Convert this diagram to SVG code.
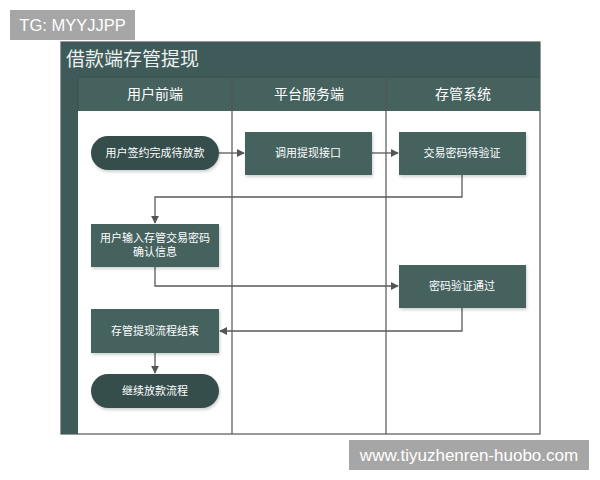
<svg xmlns="http://www.w3.org/2000/svg" width="600" height="480" viewBox="0 0 600 480">
<defs>
<style>
.t{font-family:"Liberation Sans","Noto Sans CJK SC",sans-serif;fill:#ffffff;text-anchor:middle}
.n{font-size:11px}
.h{font-size:14px}
.box{fill:#45625f}
.stad{fill:#364d4b}
.ln{fill:none;stroke:#5a5a5a;stroke-width:1.3}
.wm{fill:#a6a6a6}
</style>
<marker id="ar" viewBox="0 0 10 10" refX="9" refY="5" markerWidth="8" markerHeight="8" markerUnits="userSpaceOnUse" orient="auto">
<path d="M0,0 L10,5 L0,10 z" fill="#555"/>
</marker>
<filter id="sh" x="-10%" y="-10%" width="130%" height="140%">
<feDropShadow dx="1" dy="2" stdDeviation="1.5" flood-color="#000" flood-opacity="0.18"/>
</filter>
</defs>
<rect width="600" height="480" fill="#ffffff"/>
<g id="watermark-top">
<rect class="wm" x="10" y="10" width="125" height="30"/>
<text x="72.5" y="31" font-family="Liberation Sans,sans-serif" font-size="16.5" fill="#ffffff" text-anchor="middle">TG: MYYJJPP</text>
</g>
<g id="frame">
<rect x="61" y="42" width="479" height="392" fill="#ffffff" stroke="#555" stroke-width="1.2"/>
<rect x="61" y="42" width="479" height="35" fill="#3f5b59"/>
<rect x="61" y="77" width="479" height="34" fill="#45625f"/>
<rect x="61" y="77" width="17" height="357" fill="#3f5b59"/>
<line x1="78" y1="77" x2="540" y2="77" stroke="#37504e" stroke-width="1"/>
<line x1="232" y1="77" x2="232" y2="434" stroke="#555" stroke-width="1.2"/>
<line x1="386" y1="77" x2="386" y2="434" stroke="#555" stroke-width="1.2"/>
<line x1="78" y1="77" x2="78" y2="111" stroke="#37504e" stroke-width="1"/>
<text x="66" y="66" font-family="Liberation Sans,'Noto Sans CJK SC',sans-serif" font-size="19" fill="#ecf1f0">借款端存管提现</text>
<text class="t h" x="155" y="99">用户前端</text>
<text class="t h" x="309" y="99">平台服务端</text>
<text class="t h" x="463" y="99">存管系统</text>
</g>
<g id="connectors">
<path class="ln" d="M219,153 H244" marker-end="url(#ar)"/>
<path class="ln" d="M372,153 H398" marker-end="url(#ar)"/>
<path class="ln" d="M462,175 V197 H155 V223" marker-end="url(#ar)"/>
<path class="ln" d="M155,267 V286 H398" marker-end="url(#ar)"/>
<path class="ln" d="M462,308 V331 H220" marker-end="url(#ar)"/>
<path class="ln" d="M155,353 V373" marker-end="url(#ar)"/>
</g>
<g id="n1">
<rect class="stad" x="91" y="136" width="128" height="34" rx="17" filter="url(#sh)"/>
<text class="t n" x="155" y="157">用户签约完成待放款</text>
</g>
<g id="n2">
<rect class="box" x="245" y="132" width="127" height="43" filter="url(#sh)"/>
<text class="t n" x="308" y="157">调用提现接口</text>
</g>
<g id="n3">
<rect class="box" x="399" y="132" width="127" height="43" filter="url(#sh)"/>
<text class="t n" x="462" y="157">交易密码待验证</text>
</g>
<g id="n4">
<rect class="box" x="91" y="224" width="128" height="43" filter="url(#sh)"/>
<text class="t n" x="155" y="242">用户输入存管交易密码</text>
<text class="t n" x="155" y="256">确认信息</text>
</g>
<g id="n5">
<rect class="box" x="399" y="265" width="127" height="43" filter="url(#sh)"/>
<text class="t n" x="462" y="290">密码验证通过</text>
</g>
<g id="n6">
<rect class="box" x="91" y="309" width="128" height="44" filter="url(#sh)"/>
<text class="t n" x="155" y="335">存管提现流程结束</text>
</g>
<g id="n7">
<rect class="stad" x="91" y="374" width="128" height="34" rx="17" filter="url(#sh)"/>
<text class="t n" x="155" y="395">继续放款流程</text>
</g>
<g id="watermark-bottom">
<rect class="wm" x="349" y="440" width="240" height="30"/>
<text x="469" y="461" font-family="Liberation Sans,sans-serif" font-size="17" fill="#ffffff" text-anchor="middle">www.tiyuzhenren-huobo.com</text>
</g>
</svg>
